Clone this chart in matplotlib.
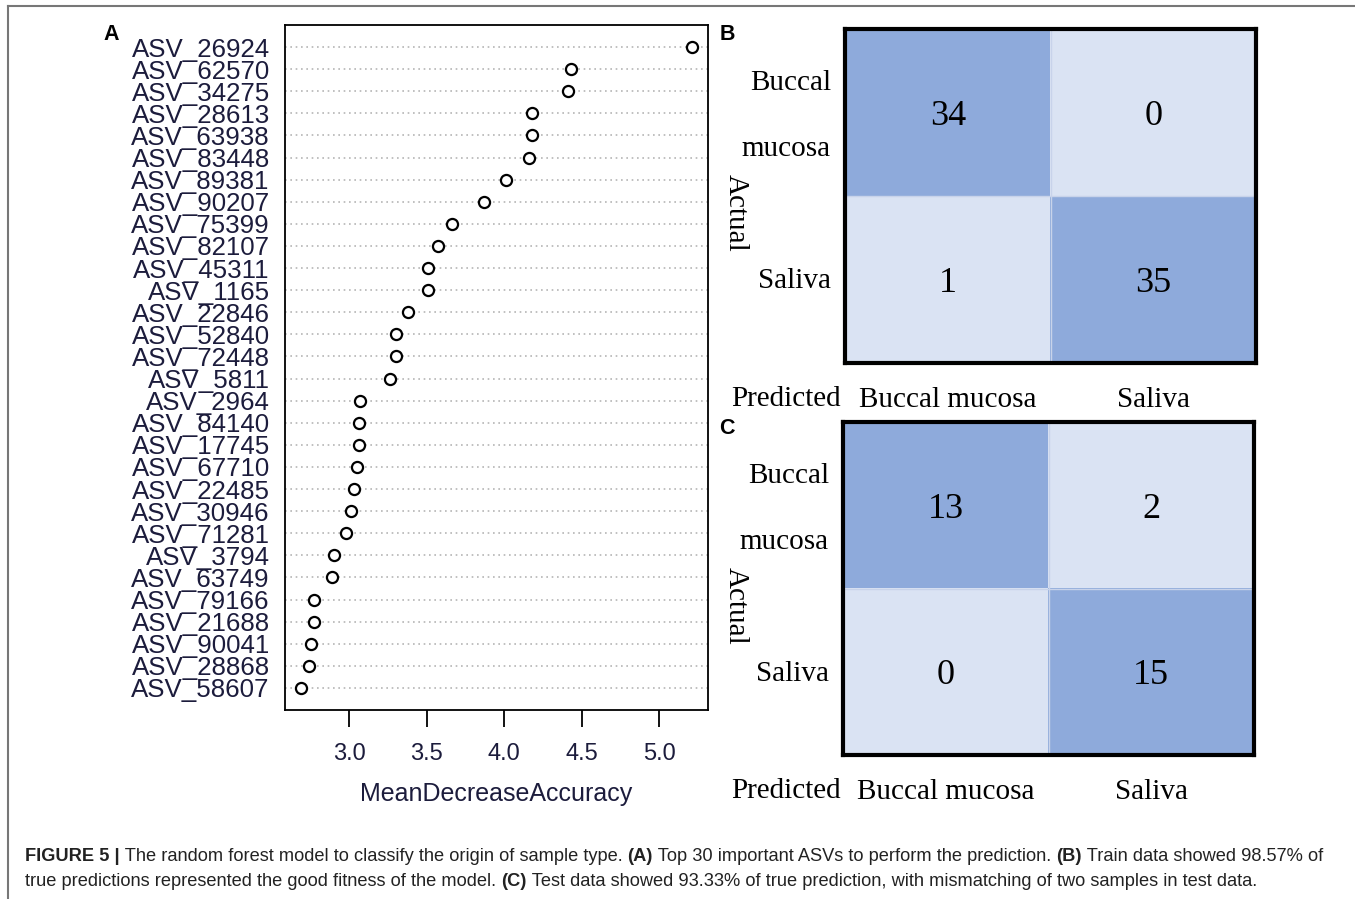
import matplotlib
matplotlib.use("Agg")
import matplotlib.pyplot as plt
import numpy as np
from matplotlib.colors import ListedColormap
from matplotlib.lines import Line2D

# ---- data -----------------------------------------------------------------
asv_labels = ["ASV_26924", "ASV_62570", "ASV_34275", "ASV_28613", "ASV_63938",
              "ASV_83448", "ASV_89381", "ASV_90207", "ASV_75399", "ASV_82107",
              "ASV_45311", "ASV_1165", "ASV_22846", "ASV_52840", "ASV_72448",
              "ASV_5811", "ASV_2964", "ASV_84140", "ASV_17745", "ASV_67710",
              "ASV_22485", "ASV_30946", "ASV_71281", "ASV_3794", "ASV_63749",
              "ASV_79166", "ASV_21688", "ASV_90041", "ASV_28868", "ASV_58607"]
mda = [5.21, 4.43, 4.41, 4.18, 4.18, 4.16, 4.01, 3.87, 3.66, 3.57,
       3.51, 3.51, 3.38, 3.30, 3.30, 3.26, 3.07, 3.06, 3.06, 3.05,
       3.03, 3.01, 2.98, 2.90, 2.89, 2.77, 2.77, 2.75, 2.74, 2.69]
x_ticks = [3.0, 3.5, 4.0, 4.5, 5.0]

classes = ["Buccal mucosa", "Saliva"]
train_cm = np.array([[34, 0], [1, 35]])
test_cm = np.array([[13, 2], [0, 15]])

caption1 = [("FIGURE 5 |", "bold"),
            (" The random forest model to classify the origin of sample type. ", "normal"),
            ("(A)", "bold"),
            (" Top 30 important ASVs to perform the prediction. ", "normal"),
            ("(B)", "bold"),
            (" Train data showed 98.57% of", "normal")]
caption2 = [("true predictions represented the good fitness of the model. ", "normal"),
            ("(C)", "bold"),
            (" Test data showed 93.33% of true prediction, with mismatching of two samples in test data.", "normal")]

# ---- figure ---------------------------------------------------------------
W, H = 1355, 899
fig = plt.figure(figsize=(W / 100, H / 100), dpi=100)
fig.patch.set_facecolor("white")


def box(l, t, r, b):
    # pixel box -> figure fraction rect
    return [l / W, 1 - b / H, (r - l) / W, (b - t) / H]


def fx(x):
    return x / W


def fy(y):
    return 1 - y / H


# outer frame (top + left edge)
fig.add_artist(Line2D([fx(8), 1], [fy(6), fy(6)], color="#777777", lw=1.5))
fig.add_artist(Line2D([fx(8), fx(8)], [fy(6), 0], color="#777777", lw=1.5))

sans = "Liberation Sans"
serif = "Liberation Serif"
navy = "#1c1c3c"

# ---- panel A: dot chart ------------------------------------------------------
ax = fig.add_axes(box(285, 25, 708, 710))
ypos = np.arange(1, len(mda) + 1)
for y in ypos:
    ax.axhline(y, color="#b5b5b5", lw=1.2, linestyle=(0, (1, 2.2)), zorder=1)
ax.plot(mda, ypos, "o", mfc="white", mec="black", ms=8, mew=1.6, zorder=3)
ax.set_ylim(len(mda) + 1, 0)
ax.set_xlim(2.585, 5.314)
ax.set_yticks(ypos)
ax.set_yticklabels(asv_labels, fontsize=18.6, family=sans, color=navy)
ax.tick_params(axis="y", length=0, pad=11)
ax.set_xticks(x_ticks)
ax.set_xticklabels([f"{v:.1f}" for v in x_ticks], fontsize=17, family=sans, color=navy)
ax.tick_params(axis="x", length=12, width=1.3, pad=12)
ax.set_xlabel("MeanDecreaseAccuracy", fontsize=18, family=sans, color=navy, labelpad=12)
for s in ax.spines.values():
    s.set_linewidth(1.3)
fig.text(fx(111), fy(35), "A", fontsize=15.5, fontweight="bold", family=sans,
         ha="center", va="center")

# ---- panels B, C: confusion matrices ------------------------------------------
cell_cmap = ListedColormap(["#dae3f3", "#8eaadb"])


def conf_panel(cm, l, t, r, b, letter):
    axm = fig.add_axes(box(l, t, r, b))
    axm.imshow(np.eye(2), cmap=cell_cmap, vmin=0, vmax=1, aspect="auto",
               extent=(0, 2, 2, 0))
    for i in range(2):
        for j in range(2):
            axm.text(j + 0.5, i + 0.5, str(cm[i, j]), ha="center",
                     va="center_baseline", fontsize=26, family=serif)
    axm.axhline(1, color="#c8d3ea", lw=1)
    axm.axvline(1, color="#c8d3ea", lw=1)
    axm.set_xlim(0, 2)
    axm.set_ylim(2, 0)
    axm.set_xticks([])
    axm.set_yticks([])
    for s in axm.spines.values():
        s.set_linewidth(3)
        s.set_color("black")
    mid = (t + b) / 2
    fig.text(fx(l - 14), fy(t + 54), "Buccal", fontsize=21, family=serif,
             ha="right", va="center")
    fig.text(fx(l - 14), fy(t + 120), "mucosa", fontsize=21, family=serif,
             ha="right", va="center")
    fig.text(fx(l - 14), fy(t + (b - t) * 0.75 + 2), classes[1], fontsize=21,
             family=serif, ha="right", va="center")
    fig.text(fx(736), fy(mid + 17), "Actual", fontsize=21, family=serif,
             rotation=270, ha="center", va="center")
    fig.text(fx(786), fy(b + 36), "Predicted", fontsize=21, family=serif,
             ha="center", va="center")
    fig.text(fx(l + (r - l) * 0.25), fy(b + 37), classes[0], fontsize=21,
             family=serif, ha="center", va="center")
    fig.text(fx(l + (r - l) * 0.75), fy(b + 37), classes[1], fontsize=21,
             family=serif, ha="center", va="center")
    fig.text(fx(727), fy(t + 6), letter, fontsize=15.5, fontweight="bold",
             family=sans, ha="center", va="center")


conf_panel(train_cm, 845, 29, 1256, 363, "B")
conf_panel(test_cm, 843, 422, 1254, 755, "C")

# ---- caption -------------------------------------------------------------------
cap = fig.add_axes([0, 0, 1, 1])
cap.axis("off")
cap.set_xlim(0, 1)
cap.set_ylim(0, 1)


def rich_line(parts, x, y, size=12):
    prev = None
    for s, w in parts:
        if prev is None:
            prev = cap.annotate(s, xy=(x, y), xycoords="figure fraction",
                                ha="left", va="bottom", fontsize=size,
                                fontweight=w, family=sans, color="#222222")
        else:
            prev = cap.annotate(s, xy=(1, 0), xycoords=prev, ha="left",
                                va="bottom", fontsize=size, fontweight=w,
                                family=sans, color="#222222")


rich_line(caption1, fx(25), fy(865), size=13.15)
rich_line(caption2, fx(25), fy(890), size=13.15)

fig.savefig("out.png", dpi=100)
